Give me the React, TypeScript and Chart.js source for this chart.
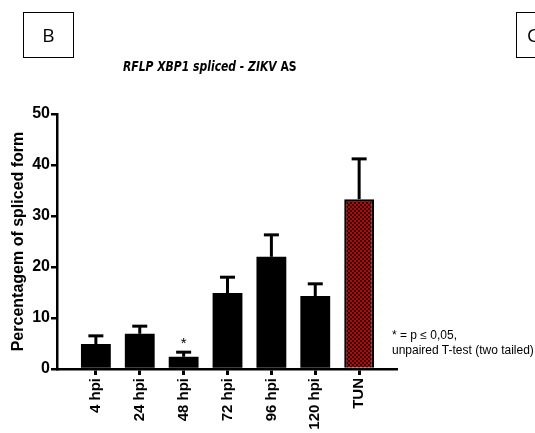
import React, { useEffect, useRef } from "react";
import { Chart, registerables } from "chart.js";

Chart.register(...registerables);

const categories = ["4 hpi", "24 hpi", "48 hpi", "72 hpi", "96 hpi", "120 hpi", "TUN"];
const means = [4.9, 6.9, 2.4, 14.9, 22.0, 14.3, 33.3];
const errors = [1.6, 1.5, 0.9, 3.1, 4.3, 2.4, 7.9];
const significant = [false, false, true, false, false, false, false];
const yTicks = [0, 10, 20, 30, 40, 50];

const FONT = "'Liberation Sans', Arial, sans-serif";

function makePattern(): CanvasPattern | string {
  const c = document.createElement("canvas");
  c.width = 4;
  c.height = 4;
  const ctx = c.getContext("2d");
  if (!ctx) return "#c00000";
  ctx.fillStyle = "#c80000";
  ctx.fillRect(0, 0, 4, 4);
  ctx.fillStyle = "#1a0000";
  ctx.fillRect(0, 0, 2, 2);
  ctx.fillRect(2, 2, 2, 2);
  return ctx.createPattern(c, "repeat") || "#c00000";
}

const errorBarPlugin = {
  id: "errorBars",
  afterDatasetsDraw(chart: any) {
    const ctx = chart.ctx;
    const meta = chart.getDatasetMeta(0);
    const y = chart.scales.y;
    ctx.save();
    ctx.strokeStyle = "#000";
    ctx.fillStyle = "#000";
    meta.data.forEach((el: any, i: number) => {
      const x = el.x;
      const yTop = y.getPixelForValue(means[i]);
      const yErr = y.getPixelForValue(means[i] + errors[i]);
      ctx.lineWidth = 3;
      ctx.beginPath();
      ctx.moveTo(x, yTop);
      ctx.lineTo(x, yErr);
      ctx.stroke();
      ctx.beginPath();
      ctx.moveTo(x - 7.5, yErr);
      ctx.lineTo(x + 7.5, yErr);
      ctx.stroke();
      if (significant[i]) {
        ctx.font = `15px ${FONT}`;
        ctx.textAlign = "center";
        ctx.textBaseline = "alphabetic";
        ctx.fillText("*", x, yErr - 4);
      }
    });
    ctx.restore();
  },
};

export default function App() {
  const ref = useRef<HTMLCanvasElement>(null);

  useEffect(() => {
    if (!ref.current) return;
    const pattern = makePattern();
    const bg = categories.map((c, i) => (i === categories.length - 1 ? pattern : "#000"));
    const chart = new Chart(ref.current, {
      type: "bar",
      data: {
        datasets: [
          {
            data: categories.map((_, i) => ({ x: i, y: means[i] })) as any,
            backgroundColor: bg as any,
            borderColor: "#000",
            borderWidth: categories.map((_, i) => (i === categories.length - 1 ? 2.5 : 0)) as any,
            categoryPercentage: 0.8,
            barPercentage: 0.85,
          },
        ],
      },
      options: {
        responsive: false,
        animation: false,
        events: [],
        layout: { padding: { left: 6, top: 114, right: 139, bottom: 0 } },
        plugins: { legend: { display: false }, tooltip: { enabled: false } },
        scales: {
          x: {
            type: "linear",
            offset: false,
            min: -0.886,
            max: 6.84,
            afterBuildTicks(scale: any) {
              scale.ticks = categories.map((_, i) => ({ value: i }));
            },
            afterFit(scale: any) {
              scale.height = 64;
            },
            grid: {
              display: true,
              offset: false,
              drawOnChartArea: false,
              drawTicks: true,
              tickLength: 6,
              color: "#000",
              lineWidth: 3,
            },
            border: { display: true, color: "#000", width: 2.5 },
            ticks: {
              autoSkip: false,
              minRotation: 90,
              maxRotation: 90,
              padding: 3,
              color: "#000",
              font: { family: FONT, size: 15, weight: "bold" },
              callback: (v: any) => categories[Math.round(Number(v))] ?? "",
            },
          },
          y: {
            min: 0,
            max: 50,
            afterBuildTicks(scale: any) {
              scale.ticks = yTicks.map((v) => ({ value: v }));
            },
            afterFit(scale: any) {
              scale.width = 51;
            },
            grid: {
              display: true,
              drawOnChartArea: false,
              drawTicks: true,
              tickLength: 6,
              color: "#000",
              lineWidth: 2.5,
            },
            border: { display: true, color: "#000", width: 2.5 },
            ticks: {
              padding: 1,
              color: "#000",
              font: { family: FONT, size: 16, weight: "bold" },
            },
            title: {
              display: true,
              text: "Percentagem of spliced form",
              color: "#000",
              padding: { top: 3, bottom: 0 },
              font: { family: FONT, size: 16, weight: "bold" },
            },
          },
        },
      },
      plugins: [errorBarPlugin],
    });
    return () => chart.destroy();
  }, []);

  const boxStyle: React.CSSProperties = {
    position: "absolute",
    top: 12,
    width: 49,
    height: 44,
    border: "1.5px solid #000",
    display: "flex",
    alignItems: "center",
    justifyContent: "center",
    fontFamily: "'Open Sans', sans-serif",
    fontSize: 19,
    color: "#000",
  };

  return (
    <div style={{ position: "fixed", left: 0, top: 0, width: 535, height: 433, background: "#fff", overflow: "hidden" }}>
      <canvas ref={ref} width={535} height={433} style={{ position: "absolute", left: 0, top: 0 }} />
      <div style={{ ...boxStyle, left: 23 }}>B</div>
      <div style={{ ...boxStyle, left: 516, justifyContent: "flex-start", paddingLeft: 10, boxSizing: "content-box", width: 39 }}>C</div>
      <div
        style={{
          position: "absolute",
          left: 123,
          top: 58,
          fontFamily: "'Liberation Sans Narrow', 'DejaVu Sans Condensed', sans-serif",
          fontWeight: "bold",
          fontSize: 13.5,
          color: "#000",
          whiteSpace: "nowrap",
          lineHeight: "16px",
          transform: "scaleX(0.89)",
          transformOrigin: "left center",
        }}
      >
        <i>RFLP XBP1 spliced - ZIKV</i> AS
      </div>
      <div
        style={{
          position: "absolute",
          left: 392,
          top: 328,
          fontFamily: FONT,
          fontSize: 12,
          lineHeight: "15px",
          color: "#000",
          whiteSpace: "nowrap",
        }}
      >
        * = p ≤ 0,05,
        <br />
        unpaired T-test (two tailed)
      </div>
    </div>
  );
}
